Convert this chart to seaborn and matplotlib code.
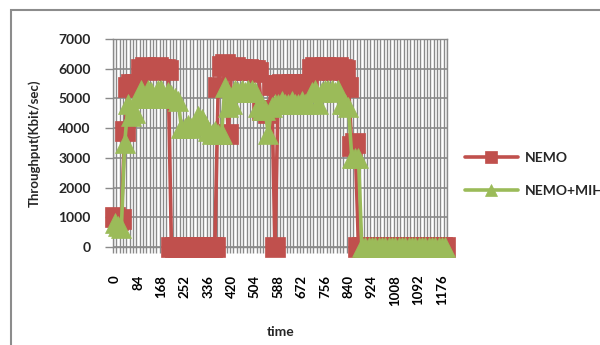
import matplotlib
matplotlib.use('Agg')
import matplotlib.pyplot as plt
import seaborn as sns
import pandas as pd
from matplotlib.patches import Rectangle

# categories (time, one every 12 s)
time = list(range(0, 1200, 12))

nemo = [1000, 900, 950, 3900, 5400, 5500, 5500, 5400, 6000, 6050,
        6000, 5950, 6000, 6050, 6000, 6000, 5950, 0, 0, 0,
        0, 0, 0, 0, 0, 0, 0, 0, 0, 0,
        0, 5400, 6100, 6150, 3800, 6000, 6050, 5950, 6000, 5950,
        6000, 5950, 5950, 5900, 4600, 4600, 4500, 5450, 0, 5450,
        5500, 5400, 5450, 5500, 5400, 5500, 5450, 5400, 5500, 6000,
        6050, 5950, 6000, 6050, 6000, 5950, 6000, 6050, 6000, 5950,
        5400, 3400, 3500, 0, 0, 0, 0, 0, 0, 0,
        0, 0, 0, 0, 0, 0, 0, 0, 0, 0,
        0, 0, 0, 0, 0, 0, 0, 0, 0, 0]

nemo_mih = [800, 700, 650, 3500, 4800, 4400, 4500, 5000, 5300, 5000,
            5300, 5200, 5000, 5300, 5300, 5000, 5200, 5100, 5000, 4900,
            4000, 4000, 4100, 4000, 4100, 4400, 4300, 4100, 3900, 3800,
            3900, 3800, 3800, 5400, 4700, 4800, 5300, 5200, 5300, 5200,
            5300, 5300, 5200, 4700, 4600, 4600, 3800, 4700, 4800, 4800,
            4900, 4800, 4800, 4900, 4800, 4800, 4900, 4800, 4800, 5200,
            5300, 4800, 5200, 5300, 5300, 5300, 5200, 5300, 4800, 4800,
            4700, 3000, 3000, 3000, 0, 0, 0, 0, 0, 0,
            0, 0, 0, 0, 0, 0, 0, 0, 0, 0,
            0, 0, 0, 0, 0, 0, 0, 0, 0, 0]

x_tick_labels = [0, 84, 168, 252, 336, 420, 504, 588, 672, 756, 840, 924, 1008, 1092, 1176]
y_tick_labels = [0, 1000, 2000, 3000, 4000, 5000, 6000, 7000]

series_names = ['NEMO', 'NEMO+MIH']

sns.set_theme(style='white')
plt.rcParams['font.family'] = ['Lato', 'DejaVu Sans']

RED = '#C0504D'
GREEN = '#9BBB59'
GRID = '#8a8a8a'

fig = plt.figure(figsize=(6, 3.45), dpi=100)
ax = fig.add_axes([113/600, 1-247/345, 334/600, 208/345])

df = pd.DataFrame({'time': time, series_names[0]: nemo, series_names[1]: nemo_mih})

sns.lineplot(data=df, x='time', y=series_names[0], ax=ax, color=RED, linewidth=2.6,
             marker='s', markersize=14, markeredgecolor=RED, markeredgewidth=0.5,
             label=series_names[0], clip_on=False, zorder=3)
sns.lineplot(data=df, x='time', y=series_names[1], ax=ax, color=GREEN, linewidth=2.6,
             marker='^', markersize=15, markeredgecolor=GREEN, markeredgewidth=0.5,
             label=series_names[1], clip_on=False, zorder=4)

ax.set_xlim(-6, 1194)
ax.set_ylim(0, 7000)

# category boundaries -> minor ticks + vertical grid
bounds = [t - 6 for t in time] + [time[-1] + 6]
ax.set_xticks(bounds, minor=True)
ax.set_xticks(x_tick_labels)
ax.set_xticklabels([str(v) for v in x_tick_labels], rotation=90, fontsize=9.5, fontweight='bold')
ax.set_yticks(y_tick_labels)
ax.set_yticklabels([str(v) for v in y_tick_labels], fontsize=10, fontweight='bold')

ax.tick_params(axis='x', which='major', length=0, pad=20, colors='black')
ax.tick_params(axis='x', which='minor', length=4, width=1, color=GRID, direction='out', bottom=True)
ax.tick_params(axis='y', which='major', length=6, width=1, color=GRID, direction='out', pad=10, left=True)

ax.grid(True, which='minor', axis='x', color=GRID, linewidth=1.0)
ax.grid(True, which='major', axis='y', color=GRID, linewidth=1.2)
ax.grid(False, which='major', axis='x')
ax.set_axisbelow(True)
for s in ax.spines.values():
    s.set_color(GRID)
    s.set_linewidth(1.0)

ax.set_xlabel('')
ax.set_ylabel('')

fig.text(34/600, 1-143/345, 'Throughput(Kbit/sec)', rotation=90, ha='center', va='center',
         fontsize=9.5, fontweight='bold')
fig.text(281/600, 1-332/345, 'time', ha='center', va='center', fontsize=10, fontweight='bold')

leg = ax.legend(loc='upper left', bbox_to_anchor=(465/600, 1-152/345), bbox_transform=fig.transFigure,
                frameon=False, borderpad=0, borderaxespad=0, markerscale=0.6,
                handlelength=3.8, handletextpad=0.5, labelspacing=1.5,
                prop={'weight': 'bold', 'size': 10})

fig.add_artist(Rectangle((11/600, -0.05), 1.0, (1-10/345) + 0.05, transform=fig.transFigure,
                         fill=False, edgecolor='#8c8c8c', linewidth=1.5, clip_on=False))

fig.savefig('out.png', dpi=100)
